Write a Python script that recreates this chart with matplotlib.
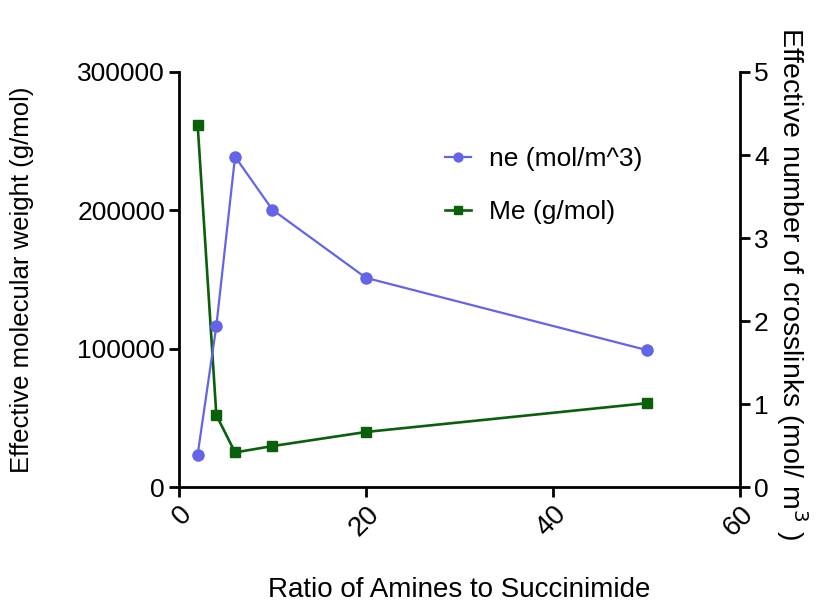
import numpy as np
import matplotlib.pyplot as plt

plt.rcParams['font.family'] = ['Liberation Sans', 'DejaVu Sans']

# donnees
ratio = [2, 4, 6, 10, 20, 50]
me_gmol = [262000, 52000, 25000, 29600, 39800, 60600]   # axe gauche
ne_molm3 = [0.39, 1.94, 3.98, 3.34, 2.52, 1.65]          # axe droit

blue = '#6464e8'
green = '#0a5f0a'

fig = plt.figure(figsize=(8.17, 6.05), dpi=100)
ax = fig.add_axes([0.219, 0.195, 0.687, 0.686])
ax2 = ax.twinx()

l1, = ax2.plot(ratio, ne_molm3, '-o', color=blue, lw=1.6, ms=8, label='ne (mol/m^3)')
l2, = ax.plot(ratio, me_gmol, '-s', color=green, lw=1.9, ms=7.5, label='Me (g/mol)')

ax.set_xlim(0, 60)
ax.set_ylim(0, 300000)
ax2.set_ylim(0, 5)
ax.set_xticks([0, 20, 40, 60])
ax.set_yticks([0, 100000, 200000, 300000])
ax2.set_yticks([0, 1, 2, 3, 4, 5])

for a in (ax, ax2):
    a.spines['top'].set_visible(False)
    for s in ('left', 'bottom', 'right'):
        a.spines[s].set_linewidth(2)
    a.tick_params(width=2, length=7, labelsize=19, direction='out', pad=3)
ax.tick_params(axis='x', labelsize=20)
ax.spines['right'].set_visible(False)
ax2.spines['left'].set_visible(False)
ax2.spines['bottom'].set_visible(False)

for lab in ax.get_xticklabels():
    lab.set_rotation(45)
    lab.set_ha('right')
    lab.set_va('top')
    lab.set_rotation_mode('anchor')

ax.set_xlabel('Ratio of Amines to Succinimide', fontsize=20, va='center')
ax.xaxis.set_label_coords(0.5, -0.248)
ax.set_ylabel('Effective molecular weight (g/mol)', fontsize=18.5, va='center')
ax.yaxis.set_label_coords(-0.28, 0.5)
ax2.set_ylabel('Effective number of crosslinks (mol/ m$^3$ )', fontsize=20.5,
               rotation=270, va='center')
ax2.yaxis.set_label_coords(1.092, 0.49)

ax2.legend(handles=[l1, l2], loc='center left', bbox_to_anchor=(0.474, 0.726),
           frameon=False, fontsize=19, handlelength=1.0, handletextpad=0.65,
           labelspacing=1.1, borderpad=0, borderaxespad=0, markerscale=0.8)

fig.savefig('out.png', dpi=100)
